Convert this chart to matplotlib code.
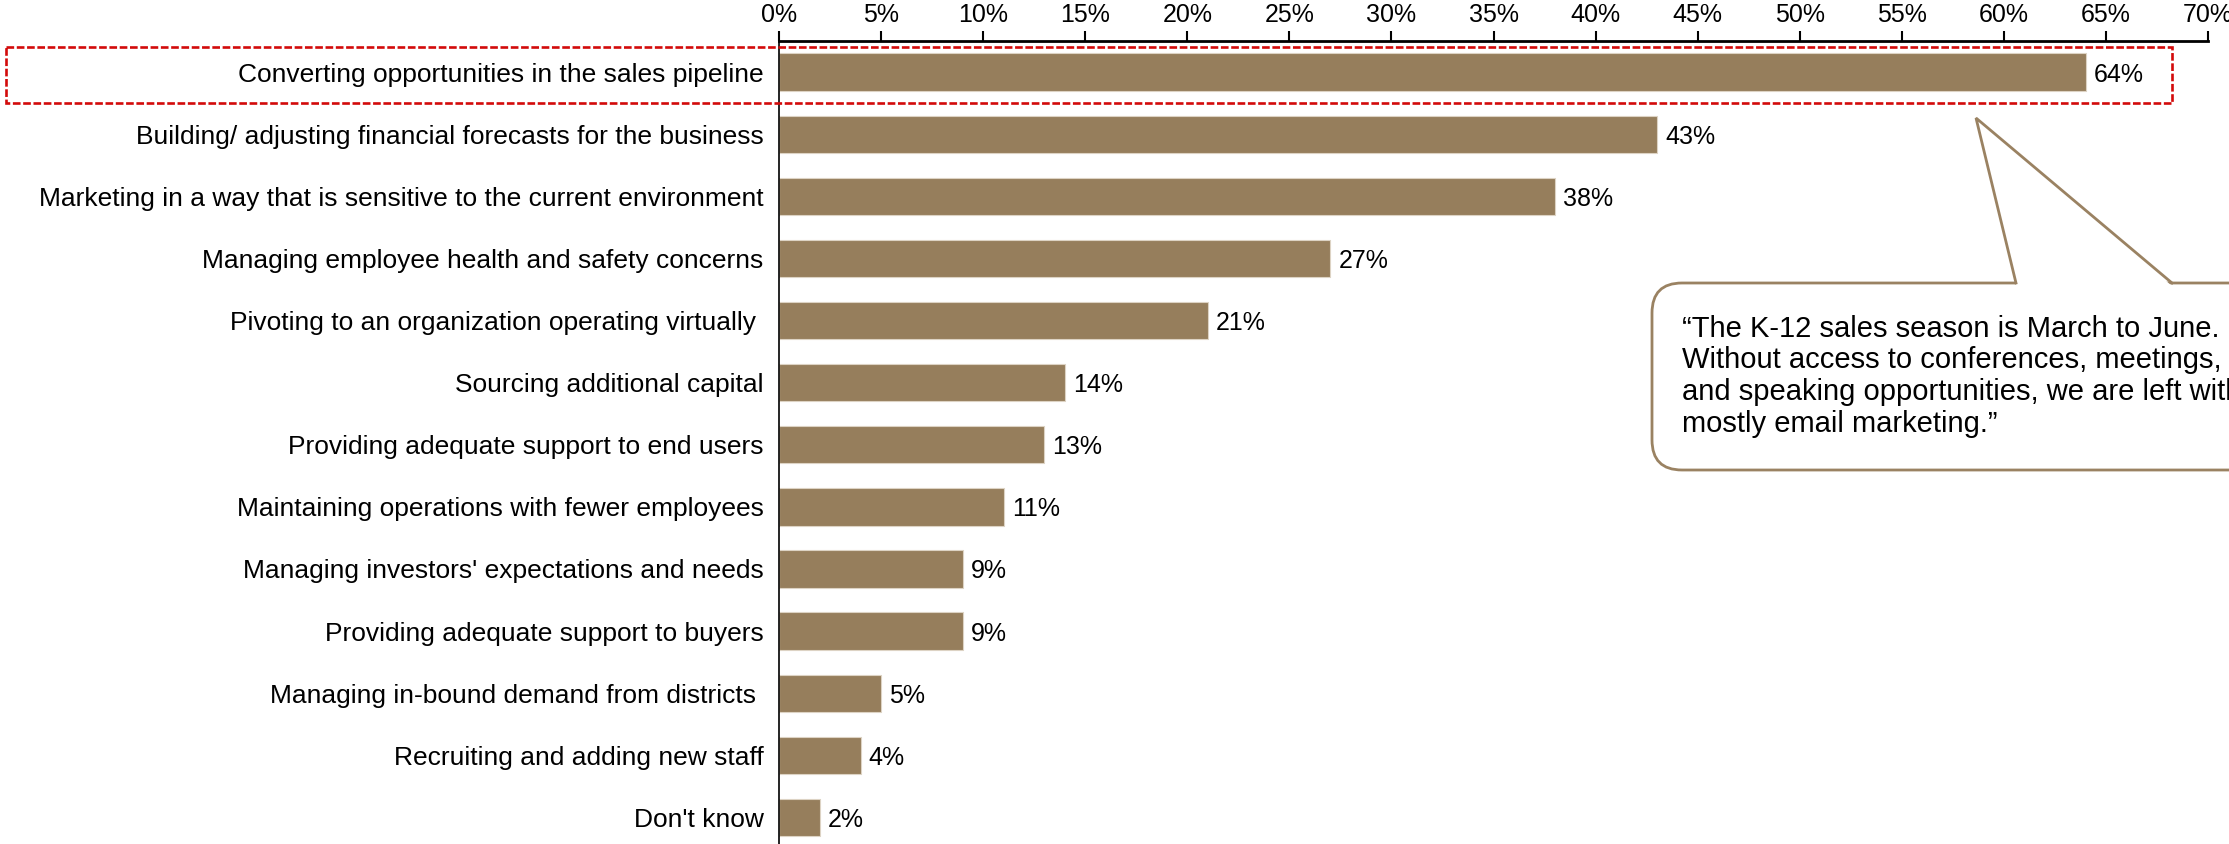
import numpy as np
import matplotlib.pyplot as plt
from matplotlib.patches import FancyBboxPatch, Polygon, Rectangle

plt.rcParams['font.family'] = ['Liberation Sans', 'DejaVu Sans']

# survey answers, top to bottom
categories = [
    "Converting opportunities in the sales pipeline",
    "Building/ adjusting financial forecasts for the business",
    "Marketing in a way that is sensitive to the current environment",
    "Managing employee health and safety concerns",
    "Pivoting to an organization operating virtually ",
    "Sourcing additional capital",
    "Providing adequate support to end users",
    "Maintaining operations with fewer employees",
    "Managing investors' expectations and needs",
    "Providing adequate support to buyers",
    "Managing in-bound demand from districts ",
    "Recruiting and adding new staff",
    "Don't know",
]
values = [64, 43, 38, 27, 21, 14, 13, 11, 9, 9, 5, 4, 2]
ticks = list(range(0, 75, 5))
tick_labels = [f"{t}%" for t in ticks]
quote_lines = [
    "\u201cThe K-12 sales season is March to June.",
    "Without access to conferences, meetings,",
    "and speaking opportunities, we are left with",
    "mostly email marketing.\u201d",
]

bar_color = '#967e5c'
W, H = 2229, 844
fig = plt.figure(figsize=(W / 100, H / 100), dpi=100)

# main bar axes, x axis on top
ax = fig.add_axes([779 / W, -4.5 / H, (2208 - 779) / W, (848.5 - 41) / H])
y = np.arange(len(categories))
ax.barh(y, values, height=0.6, color=bar_color, edgecolor='#ddd3c4', linewidth=0.8)
for yi, v in zip(y, values):
    ax.text(v + 0.4, yi, f"{v}%", va='center_baseline', ha='left', fontsize=18)

ax.set_xlim(0, 70)
ax.set_ylim(12.5, -0.5)
ax.set_yticks(y)
ax.set_yticklabels(categories, fontsize=19)
ax.tick_params(axis='y', length=0, pad=11)
ax.xaxis.tick_top()
ax.set_xticks(ticks)
ax.set_xticklabels(tick_labels, fontsize=18)
ax.tick_params(axis='x', direction='out', length=7, width=1.5, pad=3)
for s in ['right', 'bottom']:
    ax.spines[s].set_visible(False)
ax.spines['top'].set_linewidth(2)
ax.spines['left'].set_linewidth(1.2)
ax.set_facecolor('none')

# overlay in pixel coordinates for the highlight box and the quote
ov = fig.add_axes([0, 0, 1, 1])
ov.set_xlim(0, W)
ov.set_ylim(H, 0)
ov.axis('off')

ov.add_patch(Rectangle((6, 47), 2166, 56, fill=False, edgecolor='#d20a0a',
                       linewidth=1.9, linestyle=(0, (2.9, 1.0))))

callout_color = '#9a8262'
box = FancyBboxPatch((1652, 283), 700, 187, boxstyle='round,pad=0,rounding_size=30',
                     facecolor='white', edgecolor=callout_color, linewidth=2)
ov.add_patch(box)
apex, base_l, base_r = (1976, 118), (2016, 283), (2172, 283)
ov.add_patch(Polygon([apex, (base_l[0], base_l[1] + 3), (base_r[0], base_r[1] + 3)],
                     closed=True, facecolor='white', edgecolor='none'))
ov.plot([base_l[0], apex[0], base_r[0]], [base_l[1], apex[1], base_r[1]],
        color=callout_color, linewidth=2, solid_joinstyle='miter')
for i, line in enumerate(quote_lines):
    ov.text(1682, 337 + 31.5 * i, line, ha='left', va='baseline', fontsize=21)

fig.savefig('out.png', dpi=100)
